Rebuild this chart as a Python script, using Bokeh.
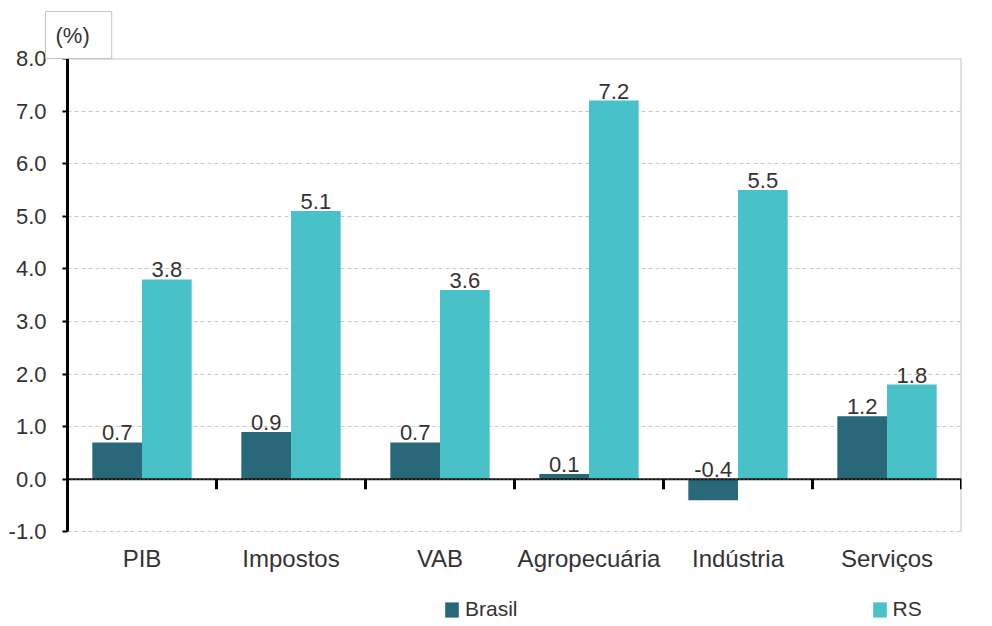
from bokeh.plotting import figure
from bokeh.models import (Range1d, FixedTicker, Legend, LegendItem,
                          ColumnDataSource, CustomJSTickFormatter)
from bokeh.core.properties import value
from bokeh.transform import dodge
from bokeh.embed import file_html
from bokeh.resources import INLINE

# ---- data ----
categories = ["PIB", "Impostos", "VAB", "Agropecuária", "Indústria", "Serviços"]
brasil = [0.7, 0.9, 0.7, 0.1, -0.4, 1.2]
rs = [3.8, 5.1, 3.6, 7.2, 5.5, 1.8]
y_ticks = [-1.0, 0.0, 1.0, 2.0, 3.0, 4.0, 5.0, 6.0, 7.0, 8.0]
unit_label = "(%)"
series_names = ["Brasil", "RS"]

# ---- styles ----
C_BR = "#286878"
C_RS = "#48c1c8"
TXT = "#333333"
FONT = "Liberation Sans"
FS = "22px"
BAR_W = 1 / 3
TICK_LEN = 0.19
FIG_W, FIG_H = 976, 622
B_LEFT, B_RIGHT, B_TOP = 67, 15, 58
PX_PER_UNIT = 52.6
GREY = "#c4c4c4"

n = len(categories)
y_top = y_ticks[-1]
y_low = y_top - (FIG_H - B_TOP) / PX_PER_UNIT  # frame reaches figure bottom

centers = [i + 0.5 for i in range(n)]
src = ColumnDataSource(dict(
    x=centers,
    cat=categories,
    cat_y=[y_ticks[0]] * n,
    brasil=brasil,
    rs=rs,
    br_lab=[f"{v:.1f}" for v in brasil],
    rs_lab=[f"{v:.1f}" for v in rs],
    br_y=[max(v, 0) for v in brasil],
    rs_y=[max(v, 0) for v in rs],
))

p = figure(width=FIG_W, height=FIG_H, output_backend="svg", toolbar_location=None,
           x_range=Range1d(0, n), y_range=Range1d(y_low, y_top),
           x_axis_type=None,
           min_border_left=B_LEFT, min_border_right=B_RIGHT, min_border_top=B_TOP,
           min_border_bottom=0, title=unit_label)
p.background_fill_color = "white"
p.border_fill_color = "white"
p.outline_line_color = None

# unit tab (title)
p.title.align = "left"
p.title.offset = -22
p.title.standoff = 0
p.title.text_font = FONT
p.title.text_font_size = FS
p.title.text_font_style = "normal"
p.title.text_color = TXT
p.title.background_fill_color = "white"
p.title.border_line_color = GREY
p.title.padding = dict(left=10, right=22, top=11, bottom=11)

# grid
p.xgrid.grid_line_color = None
p.ygrid.ticker = FixedTicker(ticks=y_ticks)
p.ygrid.grid_line_color = "#c8c8c8"
p.ygrid.grid_line_dash = "4 3"
p.ygrid.grid_line_width = 1

# y axis
p.yaxis.ticker = FixedTicker(ticks=y_ticks)
p.yaxis.bounds = (y_ticks[0], y_ticks[-1])
p.yaxis.formatter = CustomJSTickFormatter(code="return tick.toFixed(1);")
p.yaxis.axis_line_color = "black"
p.yaxis.axis_line_width = 3
p.yaxis.major_tick_line_color = "black"
p.yaxis.major_tick_line_width = 2
p.yaxis.major_tick_out = 5
p.yaxis.major_tick_in = 0
p.yaxis.minor_tick_line_color = None
p.yaxis.major_label_standoff = 16
p.yaxis.major_label_text_font = FONT
p.yaxis.major_label_text_font_size = FS
p.yaxis.major_label_text_color = TXT

# frame border (top and right)
p.line(x=[0, n], y=[y_top, y_top], line_color=GREY, line_width=2)
p.line(x=[n, n], y=[y_ticks[0], y_top], line_color=GREY, line_width=2)

# bars
r1 = p.vbar(x=dodge("x", -BAR_W / 2, range=p.x_range), top="brasil", bottom=0,
            width=BAR_W, source=src, fill_color=C_BR, line_color=None)
r2 = p.vbar(x=dodge("x", BAR_W / 2, range=p.x_range), top="rs", bottom=0,
            width=BAR_W, source=src, fill_color=C_RS, line_color=None)

# zero line with boundary ticks
bounds = list(range(n + 1))
p.line(x=[bounds[0], bounds[-1]], y=[0, 0], line_color="#111111", line_width=2)
p.line(x=[bounds[0], bounds[-1]], y=[0, 0], line_color="#777777", line_width=1,
       line_dash="1 3")
p.segment(x0=bounds[1:], y0=[0] * n, x1=bounds[1:], y1=[-TICK_LEN] * n,
          line_color="black", line_width=3)

# value labels
for key, lab, yk, off in (("brasil", "br_lab", "br_y", -BAR_W / 2),
                          ("rs", "rs_lab", "rs_y", BAR_W / 2)):
    p.text(x=dodge("x", off, range=p.x_range), y=yk, text=lab, source=src,
           text_align="center", text_baseline="bottom", y_offset=-2,
           text_font=value(FONT), text_font_size=value(FS),
           text_color=TXT)

# category labels
p.text(x="x", y="cat_y", text="cat", source=src, text_align="center",
       text_baseline="top", y_offset=13, text_font=value(FONT),
       text_font_size=value("24px"), text_color=TXT)

# legend
legend = Legend(items=[LegendItem(label=series_names[0], renderers=[r1]),
                       LegendItem(label=series_names[1], renderers=[r2])],
                orientation="horizontal", location=(376, 1),
                spacing=353, padding=0, margin=0,
                border_line_color=None, background_fill_alpha=0,
                glyph_width=17, glyph_height=19, label_standoff=5,
                label_text_font=FONT, label_text_font_size="21px",
                label_text_color=TXT, label_height=19)
p.add_layout(legend)

open("out.html", "w").write(file_html(p, INLINE))
